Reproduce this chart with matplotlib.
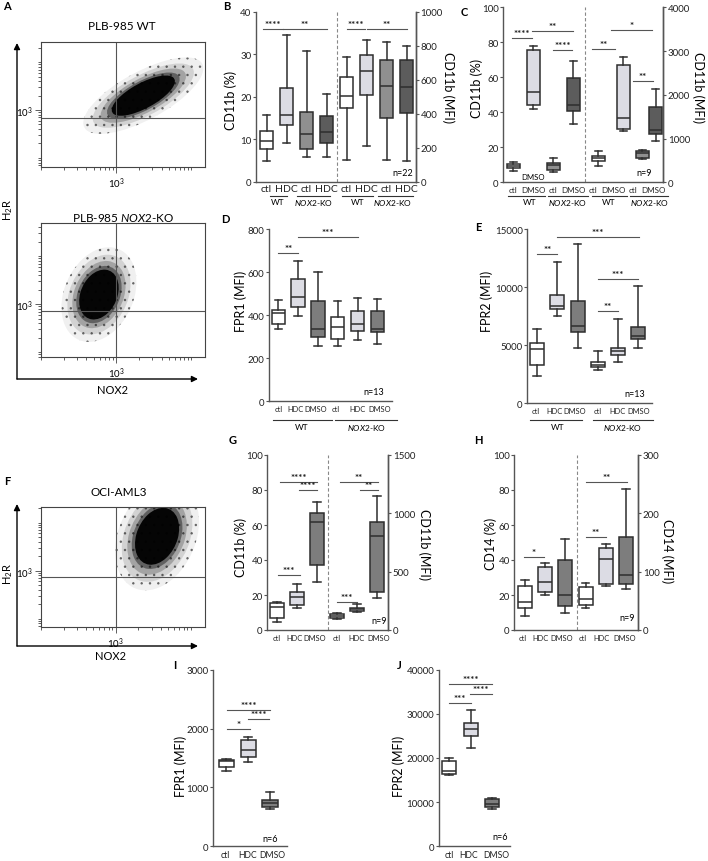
import matplotlib
matplotlib.use("Agg")
import matplotlib.pyplot as plt
from matplotlib.patches import Ellipse, FancyArrowPatch
from matplotlib.lines import Line2D
from matplotlib.transforms import Affine2D
import numpy as np

plt.rcParams['font.family'] = ['Lato', 'DejaVu Sans']
plt.rcParams['mathtext.fontset'] = 'custom'
plt.rcParams['mathtext.rm'] = 'Lato'
plt.rcParams['mathtext.it'] = 'Lato:italic'
plt.rcParams['mathtext.bf'] = 'Lato:bold'
plt.rcParams['hatch.linewidth'] = 0.6

W, H = 708, 862
EDGE = '#2e2e2e'
AXC = '#555555'
WHITE, LIGHT, MID, DARK, DMSO = '#ffffff', '#dcdce4', '#8f8f8f', '#5c5c5c', '#7d7d7d'

# flow plots: gate position and cloud [cx, cy, width, height, angle] in log10 units
a_wt_gate = [3.0, 2.83]
a_ko_gate = [3.0, 2.85]
f_gate = [3.0, 2.875]
a_wt_cloud = [3.36, 3.3, 1.1, 0.45, 45]
a_ko_cloud = [2.77, 3.2, 0.5, 1.05, -10]
f_cloud = [3.55, 3.72, 0.56, 1.2, -10]

# box stats: [whislo, q1, med, q3, whishi]
b_ticks = ["ctl", "HDC"] * 4
b_pct = [[4.8, 7.8, 9.5, 12.0, 15.6], [9.2, 13.4, 15.8, 22.0, 34.6],
         [5.8, 7.8, 11.2, 16.3, 30.7], [5.8, 9.2, 11.6, 15.5, 20.7]]
b_mfi = [[129, 436, 505, 618, 733], [212, 509, 650, 747, 832],
         [127, 376, 564, 717, 822], [123, 406, 558, 715, 798]]

c_ticks = ["ctl", "DMSO"] * 4
c_pct = [[6.7, 8.0, 9.5, 10.5, 11.5], [42, 44, 51.6, 75.7, 78],
         [6.1, 7.3, 10, 11.1, 14], [33.5, 40.7, 44, 59.5, 69.2]]
c_mfi = [[382, 497, 558, 612, 711], [1170, 1224, 1461, 2685, 2853],
         [530, 545, 680, 715, 735], [941, 1094, 1185, 1721, 2126]]

d_ticks = ["ctl", "HDC", "DMSO"] * 2
d_fpr1 = [[337, 359, 408, 424, 470], [396, 439, 483, 568, 653], [257, 297, 336, 464, 599],
          [255, 288, 343, 390, 467], [285, 325, 360, 418, 480], [266, 320, 336, 418, 477]]
e_fpr2 = [[2381, 3299, 4676, 5193, 6427], [7545, 8119, 8406, 9296, 12193],
          [4763, 6111, 6627, 8837, 13713], [2869, 3098, 3328, 3529, 4476],
          [3529, 4160, 4533, 4734, 7230], [4763, 5500, 5750, 6599, 10070]]

g_ticks = ["ctl", "HDC", "DMSO"] * 2
g_pct = [[4.6, 7.0, 13.0, 15.4, 16.0], [12.4, 14.3, 18.7, 22.0, 26.3], [27.6, 37.1, 61.5, 66.7, 73.3]]
g_mfi = [[94, 103, 123, 137, 143], [157, 166, 177, 186, 223], [274, 329, 803, 923, 1146]]
h_pct = [[8.2, 12.6, 15.8, 25.3, 28.6], [20, 21.5, 27.6, 36.2, 38.1], [9.7, 13.9, 20, 40, 52]]
h_mfi = [[37.5, 43.2, 52.8, 74.4, 80], [75.5, 78.4, 122, 141, 148], [71, 79.5, 93.8, 160, 241]]

ij_ticks = ["ctl", "HDC", "DMSO"]
i_fpr1 = [[1285, 1341, 1455, 1472, 1483], [1426, 1523, 1636, 1811, 1862], [634, 674, 730, 787, 917]]
j_fpr2 = [[16151, 16377, 17132, 19396, 20075], [22264, 24906, 26566, 27925, 30943],
          [8453, 8830, 9660, 10641, 10868]]

fig = plt.figure(figsize=(W / 100, H / 100), dpi=100)
pxT = Affine2D().scale(1 / W, -1 / H).translate(0, 1) + fig.transFigure


def px_rect(l, t, r, b):
    return [l / W, 1 - b / H, (r - l) / W, (b - t) / H]


def ptext(x, y, s, **kw):
    kw.setdefault('ha', 'center')
    kw.setdefault('va', 'center')
    fig.text(x, y, s, transform=pxT, **kw)


def pline(x0, x1, y):
    fig.add_artist(Line2D([x0, x1], [y, y], transform=pxT, color='#333333', lw=0.8))


def parrow(x0, y0, x1, y1):
    fig.add_artist(FancyArrowPatch((x0, y0), (x1, y1), transform=pxT, arrowstyle='-|>',
                                   mutation_scale=9, lw=1.0, color='black', shrinkA=0, shrinkB=0))


def flow_axes(rect, xlim, ylim, gate, cloud):
    ax = fig.add_axes(px_rect(*rect))
    ax.set_xlim(xlim)
    ax.set_ylim(ylim)
    for s in ax.spines.values():
        s.set_color('#444444')
        s.set_linewidth(0.8)
    minors = [np.log10(k * 10.0 ** n) for n in range(1, 5) for k in range(2, 10)]
    ax.set_xticks([3], ['10$^3$'])
    ax.set_yticks([3], ['10$^3$'])
    ax.set_xticks([m for m in minors if xlim[0] < m < xlim[1]] + [2, 4], minor=True)
    ax.set_yticks([m for m in minors if ylim[0] < m < ylim[1]] + [2, 4], minor=True)
    ax.tick_params(which='both', direction='out', width=0.6, color='#444444', labelsize=7, pad=2)
    ax.tick_params(which='major', length=4)
    ax.tick_params(which='minor', length=2.5)
    ax.axvline(gate[0], color='#555555', lw=0.8)
    ax.axhline(gate[1], color='#555555', lw=0.8)
    cx, cy, w, h, ang = cloud
    # density fading out from the core, sparse events at the rim
    for k, a in [(1.9, 0.06), (1.6, 0.12), (1.35, 0.22), (1.15, 0.4)]:
        ax.add_patch(Ellipse((cx, cy), w * k, h * k, angle=ang, color='black', alpha=a, lw=0))
    ax.add_patch(Ellipse((cx, cy), w * 1.9, h * 1.9, angle=ang, facecolor='none',
                         edgecolor=(0, 0, 0, 0.45), lw=0, hatch='..'))
    ax.add_patch(Ellipse((cx, cy), w, h, angle=ang, color='black', alpha=0.95, lw=0))
    return ax


def style_axis(ax, left=True):
    ax.spines['top'].set_visible(False)
    ax.spines['right' if left else 'left'].set_visible(False)
    for s in ax.spines.values():
        s.set_color(AXC)
        s.set_linewidth(1.0)
    ax.tick_params(axis='y', direction='out', length=2.5, width=0.8, color=AXC, labelsize=7,
                   pad=0.8, labelcolor='#222222')
    ax.tick_params(axis='x', length=0, pad=3, labelcolor='#222222')


def box_axes(rect, xlim, ylim, yticks, ticks, tpos=None, rlim=None, rticks=None, tsize=5.4):
    ax = fig.add_axes(px_rect(*rect))
    ax.set_xlim(xlim)
    ax.set_ylim(ylim)
    ax.set_yticks(yticks)
    if tpos is None:
        tpos = range(1, len(ticks) + 1)
    ax.set_xticks(tpos, ticks, fontsize=tsize)
    style_axis(ax)
    ax2 = None
    if rlim is not None:
        ax2 = ax.twinx()
        ax2.set_ylim(rlim)
        ax2.set_yticks(rticks)
        style_axis(ax2, left=False)
        ax2.spines['bottom'].set_visible(False)
        ax.spines['right'].set_visible(True)
        ax.spines['right'].set_color(AXC)
    return ax, ax2


def draw_boxes(ax, pos, stats, colors, width):
    st = [dict(whislo=s[0], q1=s[1], med=s[2], q3=s[3], whishi=s[4], fliers=[]) for s in stats]
    art = ax.bxp(st, positions=pos, widths=width, capwidths=width * 0.55, patch_artist=True,
                 showfliers=False, manage_ticks=False,
                 boxprops=dict(edgecolor=EDGE, linewidth=1.1),
                 medianprops=dict(color=EDGE, linewidth=1.1),
                 whiskerprops=dict(color=EDGE, linewidth=1.1),
                 capprops=dict(color=EDGE, linewidth=1.1))
    for b, c in zip(art['boxes'], colors):
        b.set_facecolor(c)


def sig(ax, x0, x1, y, stars):
    ax.plot([x0, x1], [y, y], color='#555555', lw=0.8, clip_on=False)
    ax.annotate(stars, ((x0 + x1) / 2, y), xytext=(0, 0), textcoords='offset points',
                ha='center', va='bottom', fontsize=7, color='#222222', fontweight='bold')


def divider(ax, x):
    ax.axvline(x, color='#888888', lw=0.8, ls=(0, (3, 2)))


# ---- A / F flow cytometry ----
flow_axes((41, 43, 205, 168), (2.08, 4.18), (1.81, 4.42), a_wt_gate, a_wt_cloud)
flow_axes((41, 224, 205, 358), (2.08, 4.18), (1.9, 4.69), a_ko_gate, a_ko_cloud)
flow_axes((41, 508, 205, 628), (2.09, 4.19), (1.83, 4.33), f_gate, f_cloud)
ptext(122, 27, 'PLB-985 WT', fontsize=8.5)
ptext(123, 218, 'PLB-985 $\\mathit{NOX2}$-KO', fontsize=8.5)
ptext(119, 493, 'OCI-AML3', fontsize=8.5)
parrow(17, 380, 17, 44)
parrow(17, 380, 198, 380)
parrow(17, 647, 17, 505)
parrow(17, 647, 198, 647)
ptext(8, 210, 'H$_2$R', fontsize=8, rotation=90)
ptext(8, 574, 'H$_2$R', fontsize=8, rotation=90)
ptext(113, 391, 'NOX2', fontsize=8)
ptext(110, 657, 'NOX2', fontsize=8)

# ---- B ----
ax, ax2 = box_axes((256, 12.7, 416, 182.7), (0.475, 8.475), (0, 40), range(0, 41, 10), b_ticks,
                   rlim=(0, 1000), rticks=range(0, 1001, 200), tsize=7.5)
ax.tick_params(axis='x', pad=2)
draw_boxes(ax, [1, 2, 3, 4], b_pct, [WHITE, LIGHT, MID, DARK], 0.68)
draw_boxes(ax2, [5, 6, 7, 8], b_mfi, [WHITE, LIGHT, MID, DARK], 0.68)
divider(ax, 4.525)
sig(ax, 0.83, 1.83, 35.9, '****')
sig(ax, 1.83, 4.03, 35.9, '**')
sig(ax2, 5.03, 5.93, 901, '****')
sig(ax2, 6.03, 8.03, 901, '**')
ptext(403, 174, 'n=22', fontsize=6.5)
ptext(231, 100, 'CD11b (%)', fontsize=9, rotation=90)
ptext(448, 88, 'CD11b (MFI)', fontsize=9, rotation=270)
for x0, x1 in [(270, 287), (297, 330), (342, 373), (378, 413)]:
    pline(x0, x1, 197)
for x, s in [(278, 'WT'), (314, '$\\mathit{NOX2}$-KO'), (358, 'WT'), (393, '$\\mathit{NOX2}$-KO')]:
    ptext(x, 203, s, fontsize=6)

# ---- C ----
ax, ax2 = box_axes((503.3, 8.3, 663.3, 183.3), (0.5, 8.5), (0, 100), range(0, 101, 20), c_ticks,
                   rlim=(0, 4000), rticks=range(0, 4001, 1000), tsize=5.8)
draw_boxes(ax, [1, 2, 3, 4], c_pct, [WHITE, LIGHT, MID, DARK], 0.64)
draw_boxes(ax2, [5.25, 6.49, 7.44, 8.12], c_mfi, [WHITE, LIGHT, MID, DARK], 0.64)
divider(ax, 4.585)
sig(ax, 0.92, 1.92, 82.2, '****')
sig(ax, 1.92, 3.97, 86.6, '**')
sig(ax, 2.97, 3.94, 75.5, '****')
sig(ax2, 4.92, 6.09, 3044, '**')
sig(ax2, 5.89, 7.94, 3480, '*')
sig(ax2, 6.99, 7.99, 2317, '**')
ptext(644, 173, 'n=9', fontsize=6.5)
ptext(533, 178, 'DMSO', fontsize=5.6)
ptext(477, 88, 'CD11b (%)', fontsize=9, rotation=90)
ptext(698, 88, 'CD11b (MFI)', fontsize=9, rotation=270)
for x0, x1 in [(508, 545), (548, 588), (592, 627), (630, 668)]:
    pline(x0, x1, 197)
for x, s in [(530, 'WT'), (568, '$\\mathit{NOX2}$-KO'), (609, 'WT'), (650, '$\\mathit{NOX2}$-KO')]:
    ptext(x, 203, s, fontsize=6)

# ---- D ----
ax, _ = box_axes((269, 230, 392, 402.3), (0.53, 6.74), (0, 800), range(0, 801, 200), d_ticks,
                 tpos=[1.0, 1.86, 2.9, 3.9, 5.02, 6.12])
draw_boxes(ax, range(1, 7), d_fpr1, [WHITE, LIGHT, DMSO] * 2, 0.68)
sig(ax, 1.0, 2.0, 687, '**')
sig(ax, 2.0, 5.03, 764, '***')
ptext(374, 393, 'n=13', fontsize=6.5)
ptext(241, 301, 'FPR1 (MFI)', fontsize=9, rotation=90)
pline(273, 332, 421)
pline(335, 397, 421)
ptext(302, 428, 'WT', fontsize=6)
ptext(367, 428, '$\\mathit{NOX2}$-KO', fontsize=6)

# ---- E ----
ax, _ = box_axes((527.3, 230, 651.7, 404.3), (0.5, 6.69), (0, 15000), range(0, 15001, 5000), d_ticks,
                 tpos=[0.92, 1.86, 2.88, 4.0, 4.98, 6.04])
draw_boxes(ax, range(1, 7), e_fpr2, [WHITE, LIGHT, DMSO] * 2, 0.7)
sig(ax, 1.0, 2.0, 12853, '**')
sig(ax, 2.0, 6.05, 14287, '***')
sig(ax, 4.02, 6.0, 10701, '***')
sig(ax, 4.02, 5.02, 7918, '**')
ptext(635, 395, 'n=13', fontsize=6.5)
ptext(487, 301, 'FPR2 (MFI)', fontsize=9, rotation=90)
pline(530, 582, 421)
pline(593, 653, 421)
ptext(558, 428, 'WT', fontsize=6)
ptext(623, 428, '$\\mathit{NOX2}$-KO', fontsize=6)

# ---- G ----
ax, ax2 = box_axes((267.3, 456, 388.3, 631), (0.516, 6.55), (0, 100), range(0, 101, 20), g_ticks,
                   tpos=[1.0, 1.86, 2.9, 3.97, 4.97, 6.05],
                   rlim=(0, 1500), rticks=range(0, 1501, 500))
draw_boxes(ax, [1, 2, 3], g_pct, [WHITE, LIGHT, DMSO], 0.7)
draw_boxes(ax2, [4, 5, 6], g_mfi, [WHITE, LIGHT, DMSO], 0.7)
divider(ax, 3.56)
sig(ax, 1.15, 3.0, 84.4, '****')
sig(ax, 2.1, 3.0, 80, '****')
sig(ax, 1.05, 2.15, 31.6, '***')
sig(ax2, 4.14, 6.03, 1266, '**')
sig(ax2, 5.13, 6.03, 1200, '**')
sig(ax2, 3.99, 4.98, 243, '***')
ptext(379, 622, 'n=9', fontsize=6.5)
ptext(241, 547, 'CD11b (%)', fontsize=9, rotation=90)
ptext(424, 545, 'CD11b (MFI)', fontsize=9, rotation=270)

# ---- H ----
ax, ax2 = box_axes((514.3, 456, 638.3, 631), (0.49, 6.6), (0, 100), range(0, 101, 20), g_ticks,
                   tpos=[0.9, 1.78, 2.82, 3.85, 4.8, 5.95],
                   rlim=(0, 300), rticks=range(0, 301, 100))
draw_boxes(ax, [1, 2, 3], h_pct, [WHITE, LIGHT, DMSO], 0.69)
draw_boxes(ax2, [4, 5, 6], h_mfi, [WHITE, LIGHT, DMSO], 0.69)
divider(ax, 3.56)
sig(ax, 0.97, 1.95, 41.9, '*')
sig(ax2, 4.0, 5.03, 160, '**')
sig(ax2, 4.0, 6.05, 254, '**')
ptext(627, 619, 'n=9', fontsize=6.5)
ptext(491, 544, 'CD14 (%)', fontsize=9, rotation=90)
ptext(667, 551, 'CD14 (MFI)', fontsize=9, rotation=270)

# ---- I ----
ax, _ = box_axes((213.3, 670.7, 286.7, 847.3), (0.405, 3.76), (0, 3000), range(0, 3001, 1000), ij_ticks,
                 tpos=[0.95, 1.97, 3.08], tsize=6.2)
draw_boxes(ax, [1, 2, 3], i_fpr1, [WHITE, LIGHT, DMSO], 0.7)
sig(ax, 1.05, 3.0, 2321, '****')
sig(ax, 1.98, 2.95, 2162, '****')
sig(ax, 1.05, 2.08, 1992, '*')
ptext(270, 840, 'n=6', fontsize=6.5)
ptext(181, 766, 'FPR1 (MFI)', fontsize=9, rotation=90)

# ---- J ----
ax, _ = box_axes((439, 670.7, 510, 847.3), (0.526, 3.83), (0, 40000), range(0, 40001, 10000), ij_ticks,
                 tpos=[1.0, 1.9, 3.2], tsize=6.2)
draw_boxes(ax, [1, 2, 3], j_fpr2, [WHITE, LIGHT, DMSO], 0.66)
sig(ax, 1.0, 2.98, 36754, '****')
sig(ax, 1.97, 2.98, 34490, '****')
sig(ax, 1.0, 2.0, 32377, '***')
ptext(500, 838, 'n=6', fontsize=6.5)
ptext(399, 766, 'FPR2 (MFI)', fontsize=9, rotation=90)

# panel letters
for x, y, s in [(7, 7, 'A'), (227, 7, 'B'), (464, 12, 'C'), (225, 220, 'D'), (478, 228, 'E'),
                (7, 482, 'F'), (233, 441, 'G'), (478, 441, 'H'), (175, 666, 'I'), (399, 666, 'J')]:
    ptext(x, y, s, fontsize=8, fontweight='bold')

fig.savefig('out.png', dpi=100)
